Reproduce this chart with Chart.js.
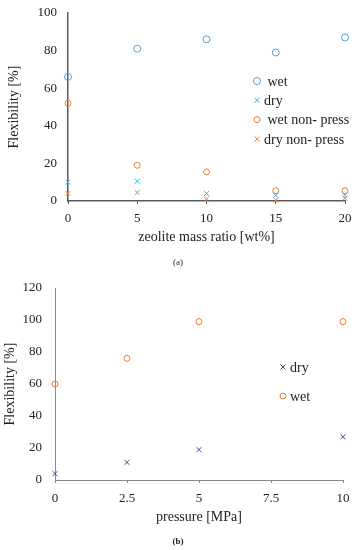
<!DOCTYPE html>
<html>
<head>
<meta charset="utf-8">
<script src="https://cdn.jsdelivr.net/npm/chart.js@4"></script>
<style>
  body { margin: 0; background: #fff; width: 356px; height: 550px; overflow: hidden; }
  .box { position: absolute; left: 0; width: 356px; }
  .cap { position: absolute; width: 356px; text-align: center; font-family: "Liberation Serif", serif; font-size: 9px; color: #222; }
</style>
</head>
<body>
<div class="box" style="top:0;height:280px"><canvas id="chartA" width="356" height="280"></canvas></div>
<div class="box" style="top:280px;height:270px"><canvas id="chartB" width="356" height="270"></canvas></div>
<div class="cap" style="top:257px">(a)</div>
<div class="cap" style="top:536px"><b>(b)</b></div>
<script>
// (a) flexibility vs zeolite content
const zeolite = [0, 5, 10, 15, 20];
const wetA = [66, 81, 86, 79, 87];
const dryA = [10, 10.5, 4, 3, 3];
const wetNonPress = [52, 19, 15.5, 5.5, 5.5];
const dryNonPress = [4, 4.5, 1, 0.5, 1.5];

// (b) flexibility vs pressure
const pressure = [0, 2.5, 5, 10];
const dryB = [4, 11, 19, 27];
const wetB = [60, 76, 99, 99];

const font = "Liberation Serif";

function pts(xs, ys) {
  return xs.map((x, i) => ({ x: x, y: ys[i] }));
}

// legend drawn inside the plot area at fixed spots
const innerLegend = {
  id: "innerLegend",
  afterDraw(chart, args, opts) {
    const ctx = chart.ctx;
    ctx.save();
    ctx.font = "14px " + font;
    ctx.textBaseline = "middle";
    chart.data.datasets.forEach((ds, i) => {
      const y = opts.y + i * opts.gap;
      ctx.strokeStyle = ds.borderColor;
      ctx.fillStyle = "rgba(0,0,0,0)";
      ctx.lineWidth = 1;
      Chart.helpers.drawPoint(ctx, { pointStyle: ds.pointStyle, radius: ds.pointRadius, borderWidth: 1 }, opts.x, y);
      ctx.fillStyle = "#222";
      ctx.fillText(ds.label, opts.x + 7, y + 1);
    });
    ctx.restore();
  }
};

// fixed axis box sizes, no extra label overhang
function noOverhang(s) {
  s.paddingTop = 0; s.paddingBottom = 0; s.paddingLeft = 0; s.paddingRight = 0;
}

function axes(xmax, xstep, ymax, axisColor, axisWidth, xTitle, yWidth, xHeight, yPad, xPad) {
  return {
    x: {
      type: "linear", min: 0, max: xmax,
      afterFit: s => { s.height = xHeight; noOverhang(s); },
      ticks: { stepSize: xstep, color: "#222", font: { family: font, size: 13 }, padding: xPad },
      grid: { drawOnChartArea: false, drawTicks: true, tickLength: 3, color: axisColor },
      border: { color: axisColor, width: axisWidth },
      title: { display: true, text: xTitle, color: "#222", font: { family: font, size: 14 }, padding: 0 }
    },
    y: {
      min: 0, max: ymax,
      afterFit: s => { s.width = yWidth; noOverhang(s); },
      ticks: { stepSize: 20, color: "#222", font: { family: font, size: 13 }, padding: yPad },
      grid: { display: false },
      border: { color: axisColor, width: axisWidth },
      title: { display: true, text: "Flexibility [%]", color: "#222", font: { family: font, size: 14 }, padding: 0 }
    }
  };
}

new Chart("chartA", {
  type: "scatter",
  data: {
    datasets: [
      { label: " wet", data: pts(zeolite, wetA), pointStyle: "circle", pointRadius: 3.5, borderColor: "#5B9BD5", backgroundColor: "transparent", borderWidth: 1, clip: false },
      { label: "dry", data: pts(zeolite, dryA), pointStyle: "crossRot", pointRadius: 3.5, borderColor: "#2DB7EA", backgroundColor: "transparent", borderWidth: 1, clip: false },
      { label: " wet non- press", data: pts(zeolite, wetNonPress), pointStyle: "circle", pointRadius: 3, borderColor: "#ED7D31", backgroundColor: "transparent", borderWidth: 1, clip: false },
      { label: "dry non- press", data: pts(zeolite, dryNonPress), pointStyle: "crossRot", pointRadius: 3.5, borderColor: "#ED7D31", backgroundColor: "transparent", borderWidth: 1, clip: false }
    ]
  },
  options: {
    responsive: false,
    animation: false,
    layout: { padding: { top: 13, right: 11, left: 6, bottom: 34 } },
    scales: axes(20, 5, 100, "#5a5a5a", 1.5, "zeolite mass ratio [wt%]", 62, 45, 3, 7),
    plugins: {
      legend: { display: false },
      tooltip: { enabled: false },
      innerLegend: { x: 257, y: 81, gap: 19.3 }
    }
  },
  plugins: [innerLegend]
});

new Chart("chartB", {
  type: "scatter",
  data: {
    datasets: [
      { label: "dry", data: pts(pressure, dryB), pointStyle: "crossRot", pointRadius: 3.5, borderColor: "#3A4A8C", backgroundColor: "transparent", borderWidth: 1, clip: false },
      { label: "wet", data: pts(pressure, wetB), pointStyle: "circle", pointRadius: 3, borderColor: "#ED7D31", backgroundColor: "transparent", borderWidth: 1, clip: false }
    ]
  },
  options: {
    responsive: false,
    animation: false,
    layout: { padding: { top: 8, right: 13, left: 2, bottom: 24 } },
    scales: axes(10, 2.5, 120, "#8a8a8a", 1, "pressure [MPa]", 53, 46, 5, 8),
    plugins: {
      legend: { display: false },
      tooltip: { enabled: false },
      innerLegend: { x: 283, y: 87, gap: 29 }
    }
  },
  plugins: [innerLegend]
});
</script>
</body>
</html>
